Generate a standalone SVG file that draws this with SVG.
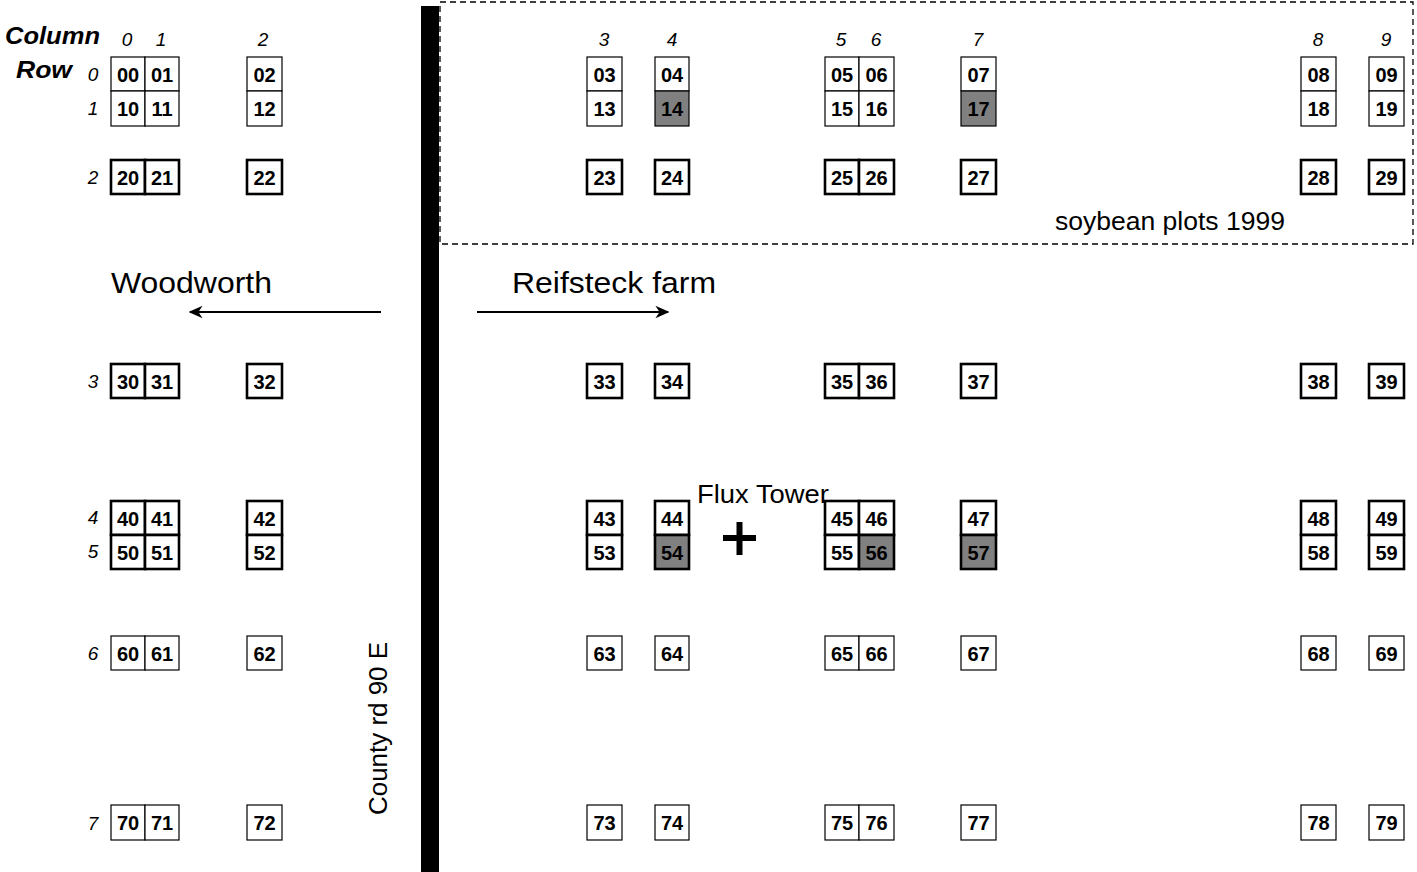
<svg xmlns="http://www.w3.org/2000/svg" width="1417" height="872" viewBox="0 0 1417 872">
<defs>
<style>
text{font-family:"Liberation Sans",Arial,sans-serif;fill:#000}
.c{font-weight:bold;font-size:20px;text-anchor:middle}
.lab{font-style:italic;font-size:19px;text-anchor:middle}
.hd{font-style:italic;font-weight:bold;font-size:24px}
.big{font-size:29px}
.med{font-size:25px}
.k{fill:#fff;stroke:#000;stroke-width:2.6}
.t{fill:#fff;stroke:#000;stroke-width:1.2}
.g{fill:#808080}
.arr{stroke:#000;stroke-width:2;fill:none}
</style>
<marker id="ah2" viewBox="0 0 10 10" refX="9" refY="5" markerWidth="14" markerHeight="14" orient="auto" markerUnits="userSpaceOnUse">
<path d="M0,0.5 L10,5 L0,9.5 L3,5 Z" fill="#000"/>
</marker>
</defs>
<rect width="1417" height="872" fill="#fff"/>

<g id="soybean-area">
<rect x="440" y="2" width="973" height="242" fill="none" stroke="#000" stroke-width="1.3" stroke-dasharray="6,4"/>
<text class="med" x="1055" y="230" textLength="230" lengthAdjust="spacingAndGlyphs">soybean plots 1999</text>
</g>

<g id="road">
<rect x="421" y="6" width="18" height="866" fill="#000"/>
<text transform="translate(387,728.5) rotate(-90)" text-anchor="middle" font-size="26" textLength="173" lengthAdjust="spacingAndGlyphs">County rd 90 E</text>
</g>

<g id="headers">
<text class="hd" x="5" y="44" textLength="95" lengthAdjust="spacingAndGlyphs">Column</text>
<text class="hd" x="16" y="78" textLength="56" lengthAdjust="spacingAndGlyphs">Row</text>
<text class="lab" x="127" y="46">0</text>
<text class="lab" x="161" y="46">1</text>
<text class="lab" x="263" y="46">2</text>
<text class="lab" x="604" y="46">3</text>
<text class="lab" x="672" y="46">4</text>
<text class="lab" x="841" y="46">5</text>
<text class="lab" x="876" y="46">6</text>
<text class="lab" x="978" y="46">7</text>
<text class="lab" x="1318" y="46">8</text>
<text class="lab" x="1386" y="46">9</text>
<text class="lab" x="93" y="81">0</text>
<text class="lab" x="93" y="115">1</text>
<text class="lab" x="93" y="184">2</text>
<text class="lab" x="93" y="388">3</text>
<text class="lab" x="93" y="524">4</text>
<text class="lab" x="93" y="558">5</text>
<text class="lab" x="93" y="660">6</text>
<text class="lab" x="93" y="830">7</text>
</g>

<g id="labels">
<text class="big" x="111" y="293" textLength="161" lengthAdjust="spacingAndGlyphs">Woodworth</text>
<text class="big" x="512" y="293" textLength="204" lengthAdjust="spacingAndGlyphs">Reifsteck farm</text>
<text class="med" x="697" y="503" textLength="132" lengthAdjust="spacingAndGlyphs">Flux Tower</text>
</g>

<g id="flux-tower">
<rect x="723" y="535" width="33" height="6" fill="#000"/>
<rect x="736.5" y="522" width="6" height="33" fill="#000"/>
</g>

<g id="connectors">
<line class="arr" x1="381" y1="312" x2="190" y2="312" marker-end="url(#ah2)"/>
<line class="arr" x1="477" y1="312" x2="668" y2="312" marker-end="url(#ah2)"/>
</g>

<g id="cell-00"><rect class="t" x="111" y="57" width="34" height="34"/><text class="c" x="128" y="82">00</text></g>
<g id="cell-01"><rect class="t" x="145" y="57" width="34" height="34"/><text class="c" x="162" y="82">01</text></g>
<g id="cell-02"><rect class="t" x="247" y="57" width="35" height="34"/><text class="c" x="264.5" y="82">02</text></g>
<g id="cell-03"><rect class="t" x="587" y="57" width="35" height="34"/><text class="c" x="604.5" y="82">03</text></g>
<g id="cell-04"><rect class="t" x="655" y="57" width="34" height="34"/><text class="c" x="672" y="82">04</text></g>
<g id="cell-05"><rect class="t" x="825" y="57" width="34" height="34"/><text class="c" x="842" y="82">05</text></g>
<g id="cell-06"><rect class="t" x="859" y="57" width="35" height="34"/><text class="c" x="876.5" y="82">06</text></g>
<g id="cell-07"><rect class="t" x="961" y="57" width="35" height="34"/><text class="c" x="978.5" y="82">07</text></g>
<g id="cell-08"><rect class="t" x="1301" y="57" width="35" height="34"/><text class="c" x="1318.5" y="82">08</text></g>
<g id="cell-09"><rect class="t" x="1369" y="57" width="35" height="34"/><text class="c" x="1386.5" y="82">09</text></g>

<g id="cell-10"><rect class="t" x="111" y="91" width="34" height="35"/><text class="c" x="128" y="116">10</text></g>
<g id="cell-11"><rect class="t" x="145" y="91" width="34" height="35"/><text class="c" x="162" y="116">11</text></g>
<g id="cell-12"><rect class="t" x="247" y="91" width="35" height="35"/><text class="c" x="264.5" y="116">12</text></g>
<g id="cell-13"><rect class="t" x="587" y="91" width="35" height="35"/><text class="c" x="604.5" y="116">13</text></g>
<g id="cell-14"><rect class="t g" x="655" y="91" width="34" height="35"/><text class="c" x="672" y="116">14</text></g>
<g id="cell-15"><rect class="t" x="825" y="91" width="34" height="35"/><text class="c" x="842" y="116">15</text></g>
<g id="cell-16"><rect class="t" x="859" y="91" width="35" height="35"/><text class="c" x="876.5" y="116">16</text></g>
<g id="cell-17"><rect class="t g" x="961" y="91" width="35" height="35"/><text class="c" x="978.5" y="116">17</text></g>
<g id="cell-18"><rect class="t" x="1301" y="91" width="35" height="35"/><text class="c" x="1318.5" y="116">18</text></g>
<g id="cell-19"><rect class="t" x="1369" y="91" width="35" height="35"/><text class="c" x="1386.5" y="116">19</text></g>

<g id="cell-20"><rect class="k" x="111" y="160" width="34" height="34"/><text class="c" x="128" y="185">20</text></g>
<g id="cell-21"><rect class="k" x="145" y="160" width="34" height="34"/><text class="c" x="162" y="185">21</text></g>
<g id="cell-22"><rect class="k" x="247" y="160" width="35" height="34"/><text class="c" x="264.5" y="185">22</text></g>
<g id="cell-23"><rect class="k" x="587" y="160" width="35" height="34"/><text class="c" x="604.5" y="185">23</text></g>
<g id="cell-24"><rect class="k" x="655" y="160" width="34" height="34"/><text class="c" x="672" y="185">24</text></g>
<g id="cell-25"><rect class="k" x="825" y="160" width="34" height="34"/><text class="c" x="842" y="185">25</text></g>
<g id="cell-26"><rect class="k" x="859" y="160" width="35" height="34"/><text class="c" x="876.5" y="185">26</text></g>
<g id="cell-27"><rect class="k" x="961" y="160" width="35" height="34"/><text class="c" x="978.5" y="185">27</text></g>
<g id="cell-28"><rect class="k" x="1301" y="160" width="35" height="34"/><text class="c" x="1318.5" y="185">28</text></g>
<g id="cell-29"><rect class="k" x="1369" y="160" width="35" height="34"/><text class="c" x="1386.5" y="185">29</text></g>

<g id="cell-30"><rect class="k" x="111" y="364" width="34" height="34"/><text class="c" x="128" y="389">30</text></g>
<g id="cell-31"><rect class="k" x="145" y="364" width="34" height="34"/><text class="c" x="162" y="389">31</text></g>
<g id="cell-32"><rect class="k" x="247" y="364" width="35" height="34"/><text class="c" x="264.5" y="389">32</text></g>
<g id="cell-33"><rect class="k" x="587" y="364" width="35" height="34"/><text class="c" x="604.5" y="389">33</text></g>
<g id="cell-34"><rect class="k" x="655" y="364" width="34" height="34"/><text class="c" x="672" y="389">34</text></g>
<g id="cell-35"><rect class="k" x="825" y="364" width="34" height="34"/><text class="c" x="842" y="389">35</text></g>
<g id="cell-36"><rect class="k" x="859" y="364" width="35" height="34"/><text class="c" x="876.5" y="389">36</text></g>
<g id="cell-37"><rect class="k" x="961" y="364" width="35" height="34"/><text class="c" x="978.5" y="389">37</text></g>
<g id="cell-38"><rect class="k" x="1301" y="364" width="35" height="34"/><text class="c" x="1318.5" y="389">38</text></g>
<g id="cell-39"><rect class="k" x="1369" y="364" width="35" height="34"/><text class="c" x="1386.5" y="389">39</text></g>

<g id="cell-40"><rect class="k" x="111" y="501" width="34" height="34"/><text class="c" x="128" y="526">40</text></g>
<g id="cell-41"><rect class="k" x="145" y="501" width="34" height="34"/><text class="c" x="162" y="526">41</text></g>
<g id="cell-42"><rect class="k" x="247" y="501" width="35" height="34"/><text class="c" x="264.5" y="526">42</text></g>
<g id="cell-43"><rect class="k" x="587" y="501" width="35" height="34"/><text class="c" x="604.5" y="526">43</text></g>
<g id="cell-44"><rect class="k" x="655" y="501" width="34" height="34"/><text class="c" x="672" y="526">44</text></g>
<g id="cell-45"><rect class="k" x="825" y="501" width="34" height="34"/><text class="c" x="842" y="526">45</text></g>
<g id="cell-46"><rect class="k" x="859" y="501" width="35" height="34"/><text class="c" x="876.5" y="526">46</text></g>
<g id="cell-47"><rect class="k" x="961" y="501" width="35" height="34"/><text class="c" x="978.5" y="526">47</text></g>
<g id="cell-48"><rect class="k" x="1301" y="501" width="35" height="34"/><text class="c" x="1318.5" y="526">48</text></g>
<g id="cell-49"><rect class="k" x="1369" y="501" width="35" height="34"/><text class="c" x="1386.5" y="526">49</text></g>

<g id="cell-50"><rect class="k" x="111" y="535" width="34" height="34"/><text class="c" x="128" y="560">50</text></g>
<g id="cell-51"><rect class="k" x="145" y="535" width="34" height="34"/><text class="c" x="162" y="560">51</text></g>
<g id="cell-52"><rect class="k" x="247" y="535" width="35" height="34"/><text class="c" x="264.5" y="560">52</text></g>
<g id="cell-53"><rect class="k" x="587" y="535" width="35" height="34"/><text class="c" x="604.5" y="560">53</text></g>
<g id="cell-54"><rect class="k g" x="655" y="535" width="34" height="34"/><text class="c" x="672" y="560">54</text></g>
<g id="cell-55"><rect class="k" x="825" y="535" width="34" height="34"/><text class="c" x="842" y="560">55</text></g>
<g id="cell-56"><rect class="k g" x="859" y="535" width="35" height="34"/><text class="c" x="876.5" y="560">56</text></g>
<g id="cell-57"><rect class="k g" x="961" y="535" width="35" height="34"/><text class="c" x="978.5" y="560">57</text></g>
<g id="cell-58"><rect class="k" x="1301" y="535" width="35" height="34"/><text class="c" x="1318.5" y="560">58</text></g>
<g id="cell-59"><rect class="k" x="1369" y="535" width="35" height="34"/><text class="c" x="1386.5" y="560">59</text></g>

<g id="cell-60"><rect class="t" x="111" y="636" width="34" height="34"/><text class="c" x="128" y="661">60</text></g>
<g id="cell-61"><rect class="t" x="145" y="636" width="34" height="34"/><text class="c" x="162" y="661">61</text></g>
<g id="cell-62"><rect class="t" x="247" y="636" width="35" height="34"/><text class="c" x="264.5" y="661">62</text></g>
<g id="cell-63"><rect class="t" x="587" y="636" width="35" height="34"/><text class="c" x="604.5" y="661">63</text></g>
<g id="cell-64"><rect class="t" x="655" y="636" width="34" height="34"/><text class="c" x="672" y="661">64</text></g>
<g id="cell-65"><rect class="t" x="825" y="636" width="34" height="34"/><text class="c" x="842" y="661">65</text></g>
<g id="cell-66"><rect class="t" x="859" y="636" width="35" height="34"/><text class="c" x="876.5" y="661">66</text></g>
<g id="cell-67"><rect class="t" x="961" y="636" width="35" height="34"/><text class="c" x="978.5" y="661">67</text></g>
<g id="cell-68"><rect class="t" x="1301" y="636" width="35" height="34"/><text class="c" x="1318.5" y="661">68</text></g>
<g id="cell-69"><rect class="t" x="1369" y="636" width="35" height="34"/><text class="c" x="1386.5" y="661">69</text></g>

<g id="cell-70"><rect class="t" x="111" y="805" width="34" height="35"/><text class="c" x="128" y="830">70</text></g>
<g id="cell-71"><rect class="t" x="145" y="805" width="34" height="35"/><text class="c" x="162" y="830">71</text></g>
<g id="cell-72"><rect class="t" x="247" y="805" width="35" height="35"/><text class="c" x="264.5" y="830">72</text></g>
<g id="cell-73"><rect class="t" x="587" y="805" width="35" height="35"/><text class="c" x="604.5" y="830">73</text></g>
<g id="cell-74"><rect class="t" x="655" y="805" width="34" height="35"/><text class="c" x="672" y="830">74</text></g>
<g id="cell-75"><rect class="t" x="825" y="805" width="34" height="35"/><text class="c" x="842" y="830">75</text></g>
<g id="cell-76"><rect class="t" x="859" y="805" width="35" height="35"/><text class="c" x="876.5" y="830">76</text></g>
<g id="cell-77"><rect class="t" x="961" y="805" width="35" height="35"/><text class="c" x="978.5" y="830">77</text></g>
<g id="cell-78"><rect class="t" x="1301" y="805" width="35" height="35"/><text class="c" x="1318.5" y="830">78</text></g>
<g id="cell-79"><rect class="t" x="1369" y="805" width="35" height="35"/><text class="c" x="1386.5" y="830">79</text></g>
</svg>
